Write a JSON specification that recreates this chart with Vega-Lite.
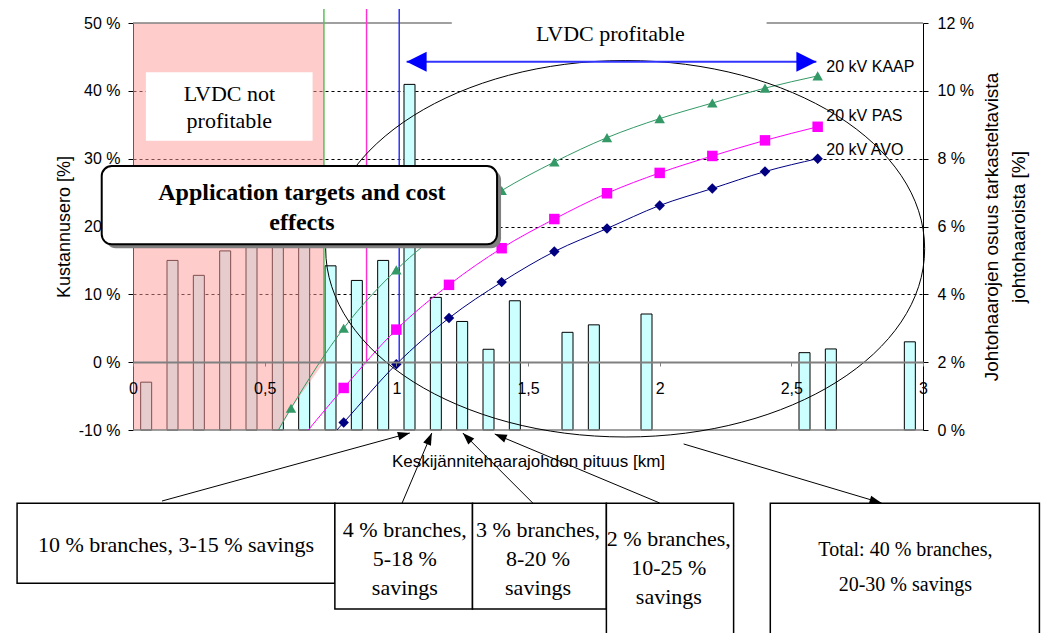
{
  "$schema": "https://vega.github.io/schema/vega-lite/v6.json",
  "width": 790,
  "height": 407,
  "autosize": {"type": "none"},
  "padding": {"left": 133, "top": 23, "right": 132, "bottom": 203},
  "background": "#ffffff",
  "config": {
    "view": {"stroke": null},
    "font": "Liberation Sans",
    "axis": {"labelColor": "#000000", "titleColor": "#000000", "titleFontWeight": "normal", "labelFont": "Liberation Sans", "titleFont": "Liberation Sans"}
  },
  "datasets": {
    "branches": [
      {"km": 0.05, "osuus": 1.41}, {"km": 0.15, "osuus": 5.0}, {"km": 0.25, "osuus": 4.56}, {"km": 0.35, "osuus": 5.28},
      {"km": 0.45, "osuus": 7.2}, {"km": 0.55, "osuus": 6.6}, {"km": 0.65, "osuus": 7.0}, {"km": 0.75, "osuus": 4.84},
      {"km": 0.85, "osuus": 4.41}, {"km": 0.95, "osuus": 5.0}, {"km": 1.05, "osuus": 10.19}, {"km": 1.15, "osuus": 3.91},
      {"km": 1.25, "osuus": 3.2}, {"km": 1.35, "osuus": 2.38}, {"km": 1.45, "osuus": 3.81}, {"km": 1.65, "osuus": 2.88},
      {"km": 1.75, "osuus": 3.1}, {"km": 1.95, "osuus": 3.42}, {"km": 2.55, "osuus": 2.28}, {"km": 2.65, "osuus": 2.39},
      {"km": 2.95, "osuus": 2.6}
    ],
    "curves": [
      {"series": "20 kV KAAP", "km": 0.4, "ero": -21.0}, {"series": "20 kV KAAP", "km": 0.6, "ero": -6.8},
      {"series": "20 kV KAAP", "km": 0.8, "ero": 5.0}, {"series": "20 kV KAAP", "km": 1.0, "ero": 13.6},
      {"series": "20 kV KAAP", "km": 1.2, "ero": 20.1}, {"series": "20 kV KAAP", "km": 1.4, "ero": 25.3},
      {"series": "20 kV KAAP", "km": 1.6, "ero": 29.5}, {"series": "20 kV KAAP", "km": 1.8, "ero": 33.1},
      {"series": "20 kV KAAP", "km": 2.0, "ero": 35.9}, {"series": "20 kV KAAP", "km": 2.2, "ero": 38.2},
      {"series": "20 kV KAAP", "km": 2.4, "ero": 40.4}, {"series": "20 kV KAAP", "km": 2.6, "ero": 42.2},
      {"series": "20 kV PAS", "km": 0.6, "ero": -13.1}, {"series": "20 kV PAS", "km": 0.8, "ero": -3.8},
      {"series": "20 kV PAS", "km": 1.0, "ero": 4.8}, {"series": "20 kV PAS", "km": 1.2, "ero": 11.4},
      {"series": "20 kV PAS", "km": 1.4, "ero": 16.8}, {"series": "20 kV PAS", "km": 1.6, "ero": 21.1},
      {"series": "20 kV PAS", "km": 1.8, "ero": 24.9}, {"series": "20 kV PAS", "km": 2.0, "ero": 27.9},
      {"series": "20 kV PAS", "km": 2.2, "ero": 30.4}, {"series": "20 kV PAS", "km": 2.4, "ero": 32.7},
      {"series": "20 kV PAS", "km": 2.6, "ero": 34.7},
      {"series": "20 kV AVO", "km": 0.6, "ero": -17.5}, {"series": "20 kV AVO", "km": 0.8, "ero": -8.9},
      {"series": "20 kV AVO", "km": 1.0, "ero": -0.3}, {"series": "20 kV AVO", "km": 1.2, "ero": 6.5},
      {"series": "20 kV AVO", "km": 1.4, "ero": 11.8}, {"series": "20 kV AVO", "km": 1.6, "ero": 16.3},
      {"series": "20 kV AVO", "km": 1.8, "ero": 19.7}, {"series": "20 kV AVO", "km": 2.0, "ero": 23.1},
      {"series": "20 kV AVO", "km": 2.2, "ero": 25.6}, {"series": "20 kV AVO", "km": 2.4, "ero": 28.1},
      {"series": "20 kV AVO", "km": 2.6, "ero": 30.0}
    ],
    "seriesLabels": [
      {"series": "20 kV KAAP", "km": 2.633, "ero": 43.56},
      {"series": "20 kV PAS", "km": 2.633, "ero": 36.29},
      {"series": "20 kV AVO", "km": 2.633, "ero": 31.28}
    ],
    "breakeven": [
      {"series": "20 kV KAAP", "km": 0.725},
      {"series": "20 kV PAS", "km": 0.887},
      {"series": "20 kV AVO", "km": 1.011}
    ],
    "lossRegion": [
      {"km": 0, "lo": -10}, {"km": 0.555, "lo": -10}, {"km": 0.6, "lo": -6.8}, {"km": 0.725, "lo": 0}
    ],
    "borders": [{"ero": 50}, {"ero": -10}],
    "panels": [
      {"id": "notprof", "x0": 0.049, "x1": 0.682, "y0": 32.65, "y1": 42.73},
      {"id": "prof", "x0": 1.2106, "x1": 2.406, "y0": 44.99, "y1": 51.62}
    ],
    "panelText": [
      {"text": "LVDC not\nprofitable", "km": 0.366, "ero": 39.49},
      {"text": "LVDC profitable", "km": 1.8126, "ero": 48.38}
    ],
    "appBox": [{"x0": -0.1188, "x1": 1.3825, "y0": 17.37, "y1": 28.92}],
    "appText": [{"text": "Application targets and cost\neffects", "km": 0.6414, "ero": 24.89}],
    "ellipse": [{"km": 1.869, "ero": 16.72}],
    "span": [{"from": 1.039, "to": 2.595, "ero": 44.3}],
    "arrows": [
      {"id": 1, "x0": 0.1101, "y0": -20.47, "x1": 1.0512, "y1": -10.44},
      {"id": 2, "x0": 1.022, "y0": -20.76, "x1": 1.1347, "y1": -10.44},
      {"id": 3, "x0": 1.518, "y0": -20.76, "x1": 1.2524, "y1": -10.44},
      {"id": 4, "x0": 2.0, "y0": -20.76, "x1": 1.3738, "y1": -10.59},
      {"id": 5, "x0": 2.0911, "y0": -12.06, "x1": 2.8425, "y1": -20.76}
    ],
    "boxes": [
      {"id": "A", "x0": -0.4402, "x1": 0.7666, "y0": -32.6, "y1": -20.81},
      {"id": "B", "x0": 0.7666, "x1": 1.2892, "y0": -36.39, "y1": -20.81},
      {"id": "C", "x0": 1.2892, "x1": 1.7977, "y0": -36.39, "y1": -20.81},
      {"id": "D", "x0": 1.7977, "x1": 2.2808, "y0": -41, "y1": -20.81},
      {"id": "E", "x0": 2.4201, "x1": 3.4421, "y0": -41, "y1": -20.81}
    ],
    "boxText": [
      {"id": "A", "text": "10 % branches, 3-15 % savings", "km": 0.1632, "ero": -26.95},
      {"id": "B", "text": "4 % branches,\n5-18 %\nsavings", "km": 1.0323, "ero": -24.74},
      {"id": "C", "text": "3 % branches,\n8-20 %\nsavings", "km": 1.5382, "ero": -24.74},
      {"id": "D", "text": "2 % branches,\n10-25 %\nsavings", "km": 2.0349, "ero": -26.07},
      {"id": "E", "text": "Total: 40 % branches,\n20-30 % savings", "km": 2.933, "ero": -27.69}
    ]
  },
  "resolve": {"scale": {"y": "independent"}},
  "layer": [
    {
      "data": {"name": "branches"},
      "mark": {"type": "bar", "size": 11, "fill": "#CCFFFF", "stroke": "#000000", "strokeWidth": 1},
      "encoding": {
        "x": {
          "field": "km", "type": "quantitative", "scale": {"domain": [0, 3], "nice": false, "padding": 0},
          "axis": {
            "orient": "bottom", "offset": -68, "values": [0, 0.5, 1, 1.5, 2, 2.5, 3],
            "labelExpr": "replace(format(datum.value, '~g'), '.', ',')",
            "labelFontSize": 16, "labelPadding": 14, "labelFlush": false, "labelOverlap": false,
            "domainColor": "#808080", "domainWidth": 2, "tickColor": "#808080", "tickSize": 4,
            "grid": false, "zindex": 1,
            "title": "Keskijännitehaarajohdon pituus [km]", "titleFontSize": 17, "titlePadding": 57
          }
        },
        "y": {
          "field": "osuus", "type": "quantitative", "scale": {"domain": [0, 12], "nice": false},
          "axis": {
            "orient": "right", "values": [0, 2, 4, 6, 8, 10, 12],
            "labelExpr": "datum.value + ' %'", "labelFontSize": 16, "labelPadding": 9,
            "tickSize": 5, "tickColor": "#000000", "domainColor": "#000000", "grid": false,
            "title": ["Johtohaarojen osuus tarkasteltavista", "johtohaaroista [%]"],
            "titleFontSize": 19, "titleAngle": 270, "titlePadding": 1, "titleLineHeight": 27
          }
        }
      }
    },
    {
      "resolve": {"scale": {"color": "independent", "shape": "independent"}},
      "layer": [
        {
          "data": {"name": "lossRegion"},
          "mark": {"type": "area", "color": "#FF9999", "opacity": 0.5},
          "encoding": {
            "x": {"field": "km", "type": "quantitative", "scale": {"domain": [0, 3], "nice": false, "padding": 0}},
            "y": {
              "field": "lo", "type": "quantitative", "scale": {"domain": [-10, 50], "nice": false},
              "axis": {
                "orient": "left", "values": [-10, 0, 10, 20, 30, 40, 50],
                "labelExpr": "datum.value + ' %'", "labelFontSize": 16, "labelPadding": 8,
                "tickSize": 5, "tickColor": "#000000", "domainColor": "#000000",
                "grid": true, "gridColor": "#000000", "gridDash": [3, 3], "gridWidth": 1,
                "gridOpacity": {"condition": {"test": "datum.value == -10 || datum.value == 0 || datum.value == 50", "value": 0}, "value": 1},
                "title": "Kustannusero [%]", "titleFontSize": 18, "titlePadding": 5
              }
            },
            "y2": {"datum": 50}
          }
        },
        {
          "data": {"name": "borders"},
          "mark": {"type": "rule", "color": "#808080", "strokeWidth": 1.5},
          "encoding": {
            "y": {"field": "ero", "type": "quantitative", "scale": {"domain": [-10, 50], "nice": false}}
          }
        },
        {
          "data": {"name": "breakeven"},
          "mark": {"type": "rule", "strokeWidth": 1.5},
          "encoding": {
            "x": {"field": "km", "type": "quantitative", "scale": {"domain": [0, 3], "nice": false, "padding": 0}},
            "y": {"datum": 0, "type": "quantitative", "scale": {"domain": [-10, 50], "nice": false}},
            "y2": {"datum": 52.06},
            "color": {"field": "series", "type": "nominal", "scale": {"domain": ["20 kV KAAP", "20 kV PAS", "20 kV AVO"], "range": ["#5CBF5C", "#FF33CC", "#3333FF"]}, "legend": null}
          }
        },
        {
          "data": {"name": "curves"},
          "mark": {"type": "line", "strokeWidth": 1, "interpolate": "monotone", "clip": true},
          "encoding": {
            "x": {"field": "km", "type": "quantitative", "scale": {"domain": [0, 3], "nice": false, "padding": 0}},
            "y": {"field": "ero", "type": "quantitative", "scale": {"domain": [-10, 50], "nice": false}},
            "color": {"field": "series", "type": "nominal", "scale": {"domain": ["20 kV KAAP", "20 kV PAS", "20 kV AVO"], "range": ["#339966", "#FF00FF", "#000080"]}, "legend": null}
          }
        },
        {
          "data": {"name": "curves"},
          "mark": {"type": "point", "filled": true, "opacity": 1, "size": 110, "clip": true},
          "encoding": {
            "x": {"field": "km", "type": "quantitative", "scale": {"domain": [0, 3], "nice": false, "padding": 0}},
            "y": {"field": "ero", "type": "quantitative", "scale": {"domain": [-10, 50], "nice": false}},
            "color": {"field": "series", "type": "nominal", "scale": {"domain": ["20 kV KAAP", "20 kV PAS", "20 kV AVO"], "range": ["#339966", "#FF00FF", "#000080"]}, "legend": null},
            "shape": {"field": "series", "type": "nominal", "scale": {"domain": ["20 kV KAAP", "20 kV PAS", "20 kV AVO"], "range": ["triangle-up", "square", "diamond"]}, "legend": null}
          }
        },
        {
          "data": {"name": "seriesLabels"},
          "mark": {"type": "text", "align": "left", "baseline": "middle", "fontSize": 16, "font": "Liberation Sans", "color": "#000000"},
          "encoding": {
            "x": {"field": "km", "type": "quantitative", "scale": {"domain": [0, 3], "nice": false, "padding": 0}},
            "y": {"field": "ero", "type": "quantitative", "scale": {"domain": [-10, 50], "nice": false}},
            "text": {"field": "series"}
          }
        },
        {
          "data": {"name": "ellipse"},
          "mark": {"type": "point", "filled": false, "color": "#000000", "strokeWidth": 1, "opacity": 1, "size": 358802,
            "shape": "M 1 0 C 1 0.3471 0.5523 0.6285 0 0.6285 C -0.5523 0.6285 -1 0.3471 -1 0 C -1 -0.3471 -0.5523 -0.6285 0 -0.6285 C 0.5523 -0.6285 1 -0.3471 1 0 Z"},
          "encoding": {
            "x": {"field": "km", "type": "quantitative", "scale": {"domain": [0, 3], "nice": false, "padding": 0}},
            "y": {"field": "ero", "type": "quantitative", "scale": {"domain": [-10, 50], "nice": false}}
          }
        },
        {
          "data": {"name": "panels"},
          "mark": {"type": "rect", "fill": "#ffffff", "strokeWidth": 0},
          "encoding": {
            "x": {"field": "x0", "type": "quantitative", "scale": {"domain": [0, 3], "nice": false, "padding": 0}},
            "x2": {"field": "x1"},
            "y": {"field": "y1", "type": "quantitative", "scale": {"domain": [-10, 50], "nice": false}},
            "y2": {"field": "y0"}
          }
        },
        {
          "data": {"name": "panelText"},
          "mark": {"type": "text", "align": "center", "baseline": "middle", "font": "Liberation Serif", "fontSize": 22, "lineBreak": "\n", "lineHeight": 27, "color": "#000000"},
          "encoding": {
            "x": {"field": "km", "type": "quantitative", "scale": {"domain": [0, 3], "nice": false, "padding": 0}},
            "y": {"field": "ero", "type": "quantitative", "scale": {"domain": [-10, 50], "nice": false}},
            "text": {"field": "text"}
          }
        },
        {
          "data": {"name": "span"},
          "mark": {"type": "rule", "color": "#3333FF", "strokeWidth": 2},
          "encoding": {
            "x": {"field": "from", "type": "quantitative", "scale": {"domain": [0, 3], "nice": false, "padding": 0}},
            "x2": {"field": "to"},
            "y": {"field": "ero", "type": "quantitative", "scale": {"domain": [-10, 50], "nice": false}}
          }
        },
        {
          "data": {"name": "span"},
          "mark": {"type": "point", "filled": true, "opacity": 1, "color": "#0000FF", "size": 400, "shape": "M 0 0 L 2 -1 L 2 1 Z"},
          "encoding": {
            "x": {"field": "from", "type": "quantitative", "scale": {"domain": [0, 3], "nice": false, "padding": 0}},
            "y": {"field": "ero", "type": "quantitative", "scale": {"domain": [-10, 50], "nice": false}}
          }
        },
        {
          "data": {"name": "span"},
          "mark": {"type": "point", "filled": true, "opacity": 1, "color": "#0000FF", "size": 400, "shape": "M 0 0 L -2 -1 L -2 1 Z"},
          "encoding": {
            "x": {"field": "to", "type": "quantitative", "scale": {"domain": [0, 3], "nice": false, "padding": 0}},
            "y": {"field": "ero", "type": "quantitative", "scale": {"domain": [-10, 50], "nice": false}}
          }
        },
        {
          "data": {"name": "appBox"},
          "mark": {"type": "rect", "fill": "#808080", "cornerRadius": 10, "xOffset": 4, "x2Offset": 4, "yOffset": 4, "y2Offset": 4},
          "encoding": {
            "x": {"field": "x0", "type": "quantitative", "scale": {"domain": [0, 3], "nice": false, "padding": 0}},
            "x2": {"field": "x1"},
            "y": {"field": "y1", "type": "quantitative", "scale": {"domain": [-10, 50], "nice": false}},
            "y2": {"field": "y0"}
          }
        },
        {
          "data": {"name": "appBox"},
          "mark": {"type": "rect", "fill": "#ffffff", "stroke": "#000000", "strokeWidth": 2, "cornerRadius": 10},
          "encoding": {
            "x": {"field": "x0", "type": "quantitative", "scale": {"domain": [0, 3], "nice": false, "padding": 0}},
            "x2": {"field": "x1"},
            "y": {"field": "y1", "type": "quantitative", "scale": {"domain": [-10, 50], "nice": false}},
            "y2": {"field": "y0"}
          }
        },
        {
          "data": {"name": "appText"},
          "mark": {"type": "text", "align": "center", "baseline": "middle", "font": "Liberation Serif", "fontWeight": "bold", "fontSize": 24, "lineBreak": "\n", "lineHeight": 30, "color": "#000000"},
          "encoding": {
            "x": {"field": "km", "type": "quantitative", "scale": {"domain": [0, 3], "nice": false, "padding": 0}},
            "y": {"field": "ero", "type": "quantitative", "scale": {"domain": [-10, 50], "nice": false}},
            "text": {"field": "text"}
          }
        },
        {
          "data": {"name": "arrows"},
          "mark": {"type": "rule", "color": "#000000", "strokeWidth": 1},
          "encoding": {
            "x": {"field": "x0", "type": "quantitative", "scale": {"domain": [0, 3], "nice": false, "padding": 0}},
            "x2": {"field": "x1"},
            "y": {"field": "y0", "type": "quantitative", "scale": {"domain": [-10, 50], "nice": false}},
            "y2": {"field": "y1"}
          }
        },
        {
          "data": {"name": "arrows"},
          "transform": [{"filter": "datum.id == 1"}],
          "mark": {"type": "point", "filled": true, "opacity": 1, "color": "#000000", "size": 144, "angle": 74.7, "shape": "M 0 0 L -0.7 2 L 0.7 2 Z"},
          "encoding": {
            "x": {"field": "x1", "type": "quantitative", "scale": {"domain": [0, 3], "nice": false, "padding": 0}},
            "y": {"field": "y1", "type": "quantitative", "scale": {"domain": [-10, 50], "nice": false}}
          }
        },
        {
          "data": {"name": "arrows"},
          "transform": [{"filter": "datum.id == 2"}],
          "mark": {"type": "point", "filled": true, "opacity": 1, "color": "#000000", "size": 144, "angle": 23, "shape": "M 0 0 L -0.7 2 L 0.7 2 Z"},
          "encoding": {
            "x": {"field": "x1", "type": "quantitative", "scale": {"domain": [0, 3], "nice": false, "padding": 0}},
            "y": {"field": "y1", "type": "quantitative", "scale": {"domain": [-10, 50], "nice": false}}
          }
        },
        {
          "data": {"name": "arrows"},
          "transform": [{"filter": "datum.id == 3"}],
          "mark": {"type": "point", "filled": true, "opacity": 1, "color": "#000000", "size": 144, "angle": -45, "shape": "M 0 0 L -0.7 2 L 0.7 2 Z"},
          "encoding": {
            "x": {"field": "x1", "type": "quantitative", "scale": {"domain": [0, 3], "nice": false, "padding": 0}},
            "y": {"field": "y1", "type": "quantitative", "scale": {"domain": [-10, 50], "nice": false}}
          }
        },
        {
          "data": {"name": "arrows"},
          "transform": [{"filter": "datum.id == 4"}],
          "mark": {"type": "point", "filled": true, "opacity": 1, "color": "#000000", "size": 144, "angle": -67.3, "shape": "M 0 0 L -0.7 2 L 0.7 2 Z"},
          "encoding": {
            "x": {"field": "x1", "type": "quantitative", "scale": {"domain": [0, 3], "nice": false, "padding": 0}},
            "y": {"field": "y1", "type": "quantitative", "scale": {"domain": [-10, 50], "nice": false}}
          }
        },
        {
          "data": {"name": "arrows"},
          "transform": [{"filter": "datum.id == 5"}],
          "mark": {"type": "point", "filled": true, "opacity": 1, "color": "#000000", "size": 144, "angle": 106, "shape": "M 0 0 L -0.7 2 L 0.7 2 Z"},
          "encoding": {
            "x": {"field": "x1", "type": "quantitative", "scale": {"domain": [0, 3], "nice": false, "padding": 0}},
            "y": {"field": "y1", "type": "quantitative", "scale": {"domain": [-10, 50], "nice": false}}
          }
        },
        {
          "data": {"name": "boxes"},
          "mark": {"type": "rect", "fill": "#ffffff", "stroke": "#000000", "strokeWidth": 1.5},
          "encoding": {
            "x": {"field": "x0", "type": "quantitative", "scale": {"domain": [0, 3], "nice": false, "padding": 0}},
            "x2": {"field": "x1"},
            "y": {"field": "y1", "type": "quantitative", "scale": {"domain": [-10, 50], "nice": false}},
            "y2": {"field": "y0"}
          }
        },
        {
          "data": {"name": "boxText"},
          "transform": [{"filter": "datum.id != 'E'"}],
          "mark": {"type": "text", "align": "center", "baseline": "middle", "font": "Liberation Serif", "fontSize": 22, "lineBreak": "\n", "lineHeight": 29, "color": "#000000"},
          "encoding": {
            "x": {"field": "km", "type": "quantitative", "scale": {"domain": [0, 3], "nice": false, "padding": 0}},
            "y": {"field": "ero", "type": "quantitative", "scale": {"domain": [-10, 50], "nice": false}},
            "text": {"field": "text"}
          }
        },
        {
          "data": {"name": "boxText"},
          "transform": [{"filter": "datum.id == 'E'"}],
          "mark": {"type": "text", "align": "center", "baseline": "middle", "font": "Liberation Serif", "fontSize": 20, "lineBreak": "\n", "lineHeight": 35, "color": "#000000"},
          "encoding": {
            "x": {"field": "km", "type": "quantitative", "scale": {"domain": [0, 3], "nice": false, "padding": 0}},
            "y": {"field": "ero", "type": "quantitative", "scale": {"domain": [-10, 50], "nice": false}},
            "text": {"field": "text"}
          }
        }
      ]
    }
  ]
}
